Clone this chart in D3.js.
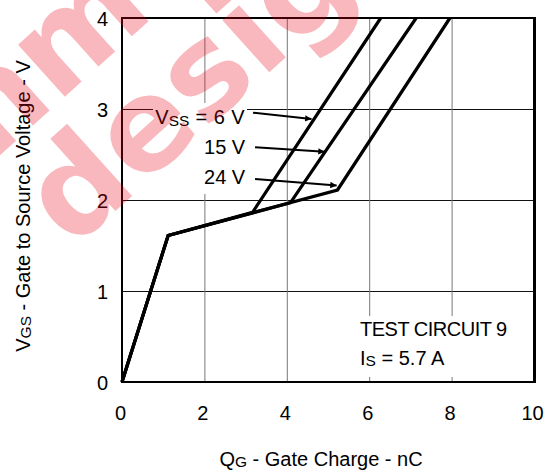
<!DOCTYPE html>
<html><head><meta charset="utf-8">
<script src="https://cdn.jsdelivr.net/npm/d3@7"></script>
<style>
body{margin:0;background:#fff}
svg text{font-family:"Liberation Sans",Arial,sans-serif}
</style></head>
<body><svg id="c" width="549" height="475"></svg>
<script>
// ---- data ----
const xTicks = [0, 2, 4, 6, 8, 10];
const yTicks = [0, 1, 2, 3, 4];
const xGrid = [2, 4, 6, 8];
const yGrid = [1, 2, 3];
const seriesNames = ["6 V", "15 V", "24 V"];
const qg6  = [0, 1.12, 3.17, 6.28];
const vgs6 = [0, 1.61, 1.865, 4.0];
const qg15  = [0, 1.12, 4.09, 7.14];
const vgs15 = [0, 1.61, 1.97, 4.0];
const qg24  = [0, 1.12, 5.23, 7.96];
const vgs24 = [0, 1.61, 2.11, 4.0];
// arrow annotations (data coords): start q, start v, end q, end v
const arrowQ0 = [3.18, 3.23, 3.23];
const arrowV0 = [2.96, 2.58, 2.23];
const arrowQ1 = [4.60, 4.92, 5.21];
const arrowV1 = [2.89, 2.53, 2.16];
const labelQ = [2.99, 2.99, 2.99];
const labelV = [2.84, 2.51, 2.18];

// ---- layout ----
const FS = 20, SUB = 15.5;
const svg = d3.select("#c");
const L = 122, R = 534, T = 18, B = 382;
const x = d3.scaleLinear().domain([0, 10]).range([L, R]);
const y = d3.scaleLinear().domain([0, 4]).range([B, T]);

// gridlines
svg.append("g").selectAll("line").data(yGrid).join("line")
  .attr("x1", L).attr("x2", R).attr("y1", d => y(d)+0.5).attr("y2", d => y(d)+0.5)
  .attr("stroke", "#111").attr("stroke-width", 1);
svg.append("g").selectAll("line").data(xGrid).join("line")
  .attr("x1", d => x(d)+0.5).attr("x2", d => x(d)+0.5).attr("y1", T).attr("y2", B)
  .attr("stroke", "#777").attr("stroke-width", 1);

// white boxes behind annotation text
svg.append("rect").attr("x", 153).attr("y", 103).attr("width", 94).attr("height", 91).attr("fill", "#fff");
svg.append("rect").attr("x", 356).attr("y", 316).attr("width", 156).attr("height", 61).attr("fill", "#fff");

// frame
svg.append("rect").attr("x", L).attr("y", T).attr("width", R-L).attr("height", B-T)
  .attr("fill", "none").attr("stroke", "#000").attr("stroke-width", 2);
svg.append("line").attr("x1", R+0.5).attr("x2", R+0.5).attr("y1", T-1).attr("y2", B+1)
  .attr("stroke", "#000").attr("stroke-width", 3);

// axes tick labels via d3 axes (no tick lines)
const xAxis = d3.axisBottom(x).tickValues(xTicks).tickSize(0).tickPadding(0).tickFormat(d3.format("d"));
const gx = svg.append("g").attr("transform", `translate(-2,${B})`).call(xAxis);
gx.select(".domain").remove();
gx.selectAll("text").attr("font-size", FS).attr("dy", null).attr("y", 38)
  .attr("font-family", "Liberation Sans, Arial, sans-serif").attr("fill", "#000");
const yAxis = d3.axisLeft(y).tickValues(yTicks).tickSize(0).tickPadding(0).tickFormat(d3.format("d"));
const gy = svg.append("g").attr("transform", `translate(${L},0)`).call(yAxis);
gy.select(".domain").remove();
gy.selectAll("text").attr("font-size", FS).attr("x", -14).attr("dy", "0.36em")
  .attr("font-family", "Liberation Sans, Arial, sans-serif").attr("fill", "#000");

// curves
const line = d3.line().x(d => x(d[0])).y(d => y(d[1]));
const series = [
  d3.zip(qg6, vgs6), d3.zip(qg15, vgs15), d3.zip(qg24, vgs24)
];
svg.append("g").selectAll("path").data(series).join("path")
  .attr("d", line).attr("fill", "none").attr("stroke", "#000")
  .attr("stroke-width", 3.2).attr("stroke-linejoin", "miter");

// arrows
svg.append("defs").append("marker").attr("id", "ah")
  .attr("viewBox", "0 0 10 10").attr("refX", 10).attr("refY", 5)
  .attr("markerWidth", 5).attr("markerHeight", 3.2).attr("orient", "auto")
  .attr("markerUnits", "strokeWidth")
  .append("path").attr("d", "M0,0 L10,5 L0,10 Z").attr("fill", "#000");
svg.append("g").selectAll("line").data(arrowQ0).join("line")
  .attr("x1", (d, i) => x(arrowQ0[i])).attr("y1", (d, i) => y(arrowV0[i]))
  .attr("x2", (d, i) => x(arrowQ1[i])).attr("y2", (d, i) => y(arrowV1[i]))
  .attr("stroke", "#000").attr("stroke-width", 2).attr("marker-end", "url(#ah)");

// series labels
const lab = svg.append("g").selectAll("text").data(seriesNames).join("text")
  .attr("x", (d, i) => x(labelQ[i])).attr("y", (d, i) => y(labelV[i]))
  .attr("text-anchor", "end").attr("font-size", FS).attr("fill", "#000");
lab.each(function(d, i) {
  const t = d3.select(this);
  if (i === 0) {
    t.append("tspan").text("V");
    t.append("tspan").attr("font-size", SUB).attr("dy", 2).text("SS");
    t.append("tspan").attr("dy", -2).attr("letter-spacing", 0.5).text(" = " + d);
  } else {
    t.text(d);
  }
});

// test circuit text
svg.append("text").attr("x", 360).attr("y", 336).attr("font-size", FS)
  .attr("letter-spacing", -0.5).attr("fill", "#000").text("TEST CIRCUIT 9");
const is = svg.append("text").attr("x", 360).attr("y", 365).attr("font-size", FS).attr("fill", "#000");
is.append("tspan").text("I");
is.append("tspan").attr("font-size", SUB).attr("dy", 1).text("S");
is.append("tspan").attr("dy", -1).text(" = 5.7 A");

// axis titles
const xt = svg.append("text").attr("x", 321).attr("y", 466).attr("text-anchor", "middle").attr("font-size", FS).attr("fill", "#000");
xt.append("tspan").text("Q");
xt.append("tspan").attr("font-size", SUB).attr("dy", 1).text("G");
xt.append("tspan").attr("dy", -1).text(" - Gate Charge - nC");
const yt = svg.append("text").attr("transform", "translate(30,206) rotate(-90)")
  .attr("text-anchor", "middle").attr("font-size", FS).attr("fill", "#000");
yt.append("tspan").text("V");
yt.append("tspan").attr("font-size", SUB).attr("dy", 1).text("GS");
yt.append("tspan").attr("dy", -1).text(" - Gate to Source Voltage - V");

// watermark
const wm = svg.append("g").style("pointer-events", "none");
[["design", "translate(72,250) rotate(-42)"], ["mmo", "translate(-42,193) rotate(-42)"]].forEach(([s, tr]) => {
  wm.append("text").attr("transform", tr)
    .style("font-family", "'DejaVu Sans', sans-serif")
    .style("fill", "#e60012").style("fill-opacity", 0.28)
    .style("font-weight", "bold").style("font-size", "128px").text(s);
});
</script>
</body></html>
